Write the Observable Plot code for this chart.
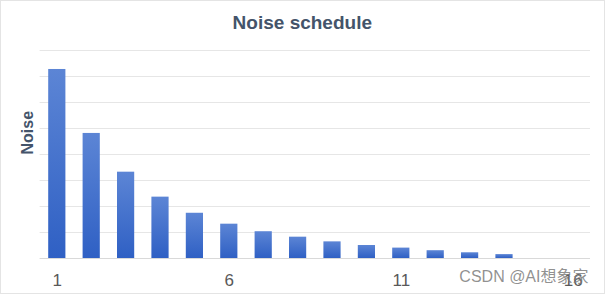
<!DOCTYPE html>
<html>
<head>
<meta charset="utf-8">
<script src="https://cdn.jsdelivr.net/npm/d3@7"></script>
<script src="https://cdn.jsdelivr.net/npm/@observablehq/plot@0.6"></script>
<style>
  html, body { margin: 0; padding: 0; background: #fff; }
  #wrap { width: 605px; height: 294px; box-sizing: border-box; border: 1px solid #e4e4e4; overflow: hidden; }
  svg { display: block; }
</style>
</head>
<body>
<div id="wrap"></div>
<script>
const steps = [1, 2, 3, 4, 5, 6, 7, 8, 9, 10, 11, 12, 13, 14, 15, 16];
const noise = [7.27, 4.81, 3.32, 2.36, 1.74, 1.32, 1.03, 0.82, 0.64, 0.50, 0.40, 0.30, 0.22, 0.15, 0, 0];
const xTicks = [1, 6, 11, 16];
const yGrid = [1, 2, 3, 4, 5, 6, 7, 8];
const titleText = "Noise schedule";
const yLabel = "Noise";
const watermark = "CSDN @AI想象家";

const data = steps.map((s, i) => ({step: s, noise: noise[i]}));

const defs = () => {
  const d = d3.create("svg:defs");
  const g = d.append("linearGradient").attr("id", "barGrad")
    .attr("x1", 0).attr("y1", 0).attr("x2", 0).attr("y2", 1);
  g.append("stop").attr("offset", "0%").attr("stop-color", "#5c85d5");
  g.append("stop").attr("offset", "100%").attr("stop-color", "#2f60c4");
  return d.node();
};

const chart = Plot.plot({
  width: 603,
  height: 292,
  marginLeft: 38.6,
  marginRight: 14,
  marginTop: 49,
  marginBottom: 35,
  style: {fontFamily: "'Liberation Sans', Arial, sans-serif", background: "#fff"},
  x: {type: "band", domain: steps, paddingInner: 0.5, paddingOuter: 0.25, round: false, axis: null},
  y: {domain: [0, 8], axis: null},
  marks: [
    defs,
    Plot.gridY(yGrid, {stroke: "#e6e6e6", strokeOpacity: 1, strokeWidth: 1}),
    Plot.ruleY([0], {stroke: "#d9d9d9", strokeWidth: 1}),
    Plot.barY(data, {x: "step", y: "noise", fill: "url(#barGrad)"}),
    Plot.axisX(xTicks, {tickSize: 0, tickPadding: 15, fontSize: 17, color: "#595959", label: null}),
    Plot.text([titleText], {frameAnchor: "top", text: d => d, dx: -13, dy: -28, lineAnchor: "middle",
      fontSize: 19, fontWeight: "bold", fill: "#44546a"}),
    Plot.text([yLabel], {frameAnchor: "left", text: d => d, rotate: -90, dx: -12.6, lineAnchor: "middle",
      fontSize: 16, fontWeight: "bold", fill: "#44546a"}),
    Plot.text([watermark], {frameAnchor: "bottom-right", text: d => d, dx: -2, dy: 18.5, textAnchor: "end",
      lineAnchor: "middle", fontSize: 16, fill: "#7d7d7d", fillOpacity: 0.85,
      fontFamily: "'Liberation Sans', 'Noto Sans CJK SC', sans-serif"})
  ]
});
document.getElementById("wrap").appendChild(chart);
</script>
</body>
</html>
